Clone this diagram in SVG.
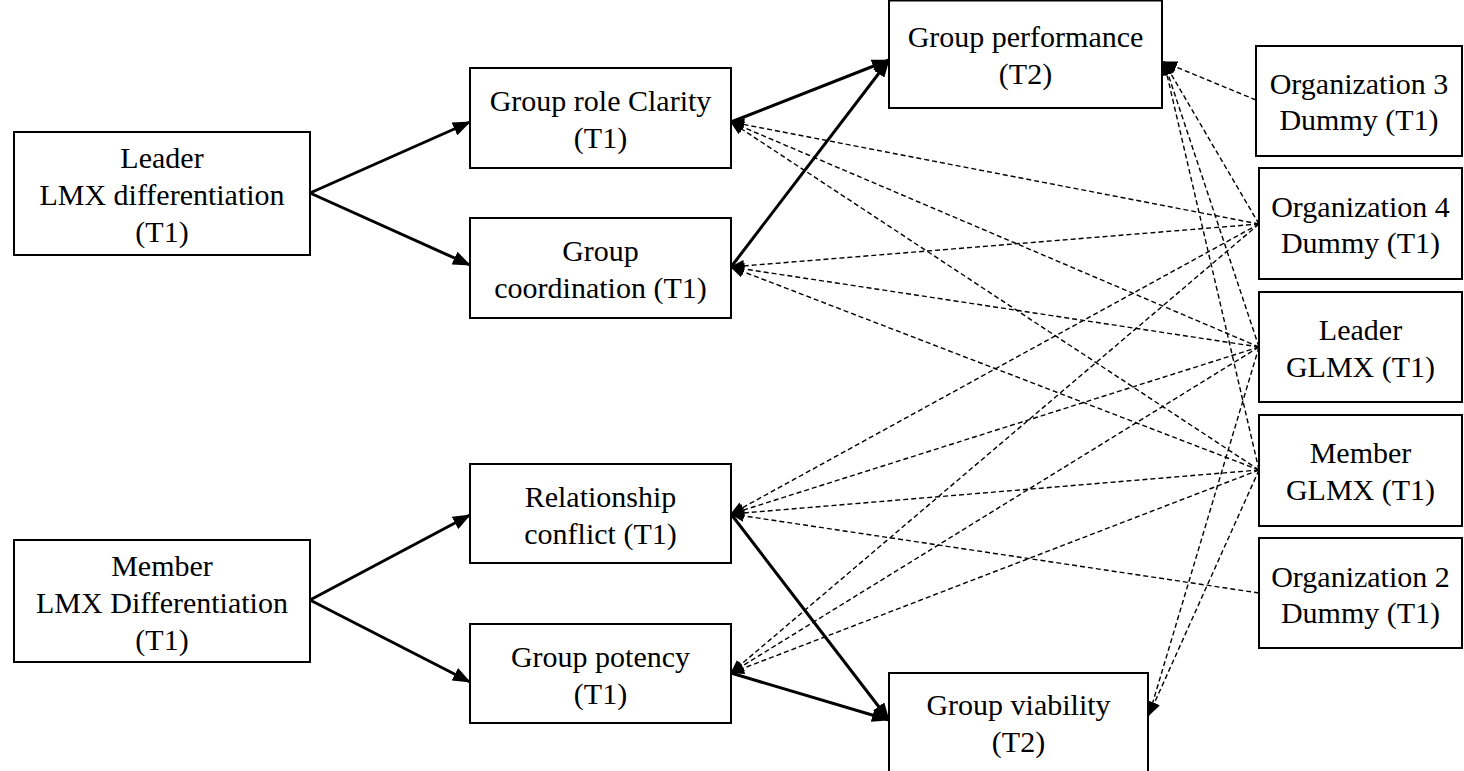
<svg xmlns="http://www.w3.org/2000/svg" width="1464" height="771" viewBox="0 0 1464 771">
  <style>
    .box { fill: #fff; stroke: #000; stroke-width: 2; }
    .lbl { font-family: 'Liberation Serif', serif; font-size: 30px; fill: #000; text-anchor: middle; }
    .main { stroke: #000; stroke-width: 3; fill: none; marker-end: url(#headMain); }
    .ctrl { stroke: #000; stroke-width: 1.4; stroke-dasharray: 5 3; fill: none; marker-end: url(#headCtrl); }
  </style>
  <defs>
    <marker id="headMain" markerUnits="userSpaceOnUse" markerWidth="18" markerHeight="14" refX="17" refY="7" orient="auto">
      <path d="M0,0 L18,7 L0,14 z" fill="#000"/>
    </marker>
    <marker id="headCtrl" markerUnits="userSpaceOnUse" markerWidth="14" markerHeight="12" refX="13" refY="6" orient="auto">
      <path d="M0,0 L14,6 L0,12 z" fill="#000"/>
    </marker>
  </defs>
  <rect width="1464" height="771" fill="#fff"/>

  <!-- connectors, drawn beneath the boxes -->
  <g id="connectors">
    <!-- hypothesised paths -->
    <line class="main" x1="310" y1="193" x2="470" y2="122"/>
    <line class="main" x1="310" y1="193" x2="470" y2="265"/>
    <line class="main" x1="310" y1="600" x2="470" y2="515"/>
    <line class="main" x1="310" y1="600" x2="470" y2="682"/>
    <line class="main" x1="731" y1="122" x2="889" y2="60"/>
    <line class="main" x1="731" y1="267" x2="889" y2="60"/>
    <line class="main" x1="731" y1="514" x2="889" y2="720"/>
    <line class="main" x1="731" y1="673" x2="889" y2="720"/>
    <!-- control variables -->
    <line class="ctrl" x1="1256" y1="100" x2="1164" y2="62"/>
    <line class="ctrl" x1="1259" y1="224" x2="1164" y2="62"/>
    <line class="ctrl" x1="1259" y1="224" x2="731" y2="122"/>
    <line class="ctrl" x1="1259" y1="224" x2="731" y2="267"/>
    <line class="ctrl" x1="1259" y1="224" x2="731" y2="514"/>
    <line class="ctrl" x1="1259" y1="224" x2="731" y2="673"/>
    <line class="ctrl" x1="1259" y1="347" x2="1164" y2="62"/>
    <line class="ctrl" x1="1259" y1="347" x2="731" y2="122"/>
    <line class="ctrl" x1="1259" y1="347" x2="731" y2="267"/>
    <line class="ctrl" x1="1259" y1="347" x2="731" y2="514"/>
    <line class="ctrl" x1="1259" y1="347" x2="731" y2="673"/>
    <line class="ctrl" x1="1259" y1="347" x2="1149" y2="715"/>
    <line class="ctrl" x1="1259" y1="470" x2="1164" y2="62"/>
    <line class="ctrl" x1="1259" y1="470" x2="731" y2="122"/>
    <line class="ctrl" x1="1259" y1="470" x2="731" y2="267"/>
    <line class="ctrl" x1="1259" y1="470" x2="731" y2="514"/>
    <line class="ctrl" x1="1259" y1="470" x2="731" y2="673"/>
    <line class="ctrl" x1="1259" y1="470" x2="1149" y2="715"/>
    <line class="ctrl" x1="1259" y1="593" x2="731" y2="514"/>
  </g>

  <!-- nodes -->
  <g id="leader-lmx" style="font-family: 'Liberation Serif', serif">
    <rect class="box" x="14" y="132" width="296" height="123"/>
    <text class="lbl" x="162" y="168">Leader</text>
    <text class="lbl" x="162" y="205">LMX differentiation</text>
    <text class="lbl" x="162" y="242">(T1)</text>
  </g>
  <g id="member-lmx" style="font-family: 'Liberation Serif', serif">
    <rect class="box" x="14" y="540" width="296" height="122"/>
    <text class="lbl" x="162" y="576">Member</text>
    <text class="lbl" x="162" y="613">LMX Differentiation</text>
    <text class="lbl" x="162" y="650">(T1)</text>
  </g>
  <g id="role-clarity" style="font-family: 'Liberation Serif', serif">
    <rect class="box" x="470" y="68" width="261" height="100"/>
    <text class="lbl" x="600.5" y="111">Group role Clarity</text>
    <text class="lbl" x="600.5" y="148">(T1)</text>
  </g>
  <g id="coordination" style="font-family: 'Liberation Serif', serif">
    <rect class="box" x="470" y="218" width="261" height="100"/>
    <text class="lbl" x="600.5" y="261">Group</text>
    <text class="lbl" x="600.5" y="298">coordination (T1)</text>
  </g>
  <g id="relationship-conflict" style="font-family: 'Liberation Serif', serif">
    <rect class="box" x="470" y="464" width="261" height="99"/>
    <text class="lbl" x="600.5" y="507">Relationship</text>
    <text class="lbl" x="600.5" y="544">conflict (T1)</text>
  </g>
  <g id="potency" style="font-family: 'Liberation Serif', serif">
    <rect class="box" x="470" y="624" width="261" height="99"/>
    <text class="lbl" x="600.5" y="667">Group potency</text>
    <text class="lbl" x="600.5" y="704">(T1)</text>
  </g>
  <g id="performance" style="font-family: 'Liberation Serif', serif">
    <rect class="box" x="889" y="0.5" width="273" height="107.5"/>
    <text class="lbl" x="1025.5" y="47">Group performance</text>
    <text class="lbl" x="1025.5" y="84">(T2)</text>
  </g>
  <g id="viability" style="font-family: 'Liberation Serif', serif">
    <rect class="box" x="889" y="673" width="259" height="102"/>
    <text class="lbl" x="1018.5" y="715">Group viability</text>
    <text class="lbl" x="1018.5" y="752">(T2)</text>
  </g>
  <g id="org3" style="font-family: 'Liberation Serif', serif">
    <rect class="box" x="1256" y="46" width="206" height="110"/>
    <text class="lbl" x="1359" y="94">Organization 3</text>
    <text class="lbl" x="1359" y="130">Dummy (T1)</text>
  </g>
  <g id="org4" style="font-family: 'Liberation Serif', serif">
    <rect class="box" x="1259" y="168" width="203" height="111"/>
    <text class="lbl" x="1360.5" y="217">Organization 4</text>
    <text class="lbl" x="1360.5" y="253">Dummy (T1)</text>
  </g>
  <g id="leader-glmx" style="font-family: 'Liberation Serif', serif">
    <rect class="box" x="1259" y="292" width="203" height="110"/>
    <text class="lbl" x="1360.5" y="340">Leader</text>
    <text class="lbl" x="1360.5" y="377">GLMX (T1)</text>
  </g>
  <g id="member-glmx" style="font-family: 'Liberation Serif', serif">
    <rect class="box" x="1259" y="415" width="203" height="111"/>
    <text class="lbl" x="1360.5" y="463">Member</text>
    <text class="lbl" x="1360.5" y="500">GLMX (T1)</text>
  </g>
  <g id="org2" style="font-family: 'Liberation Serif', serif">
    <rect class="box" x="1259" y="538" width="203" height="110"/>
    <text class="lbl" x="1360.5" y="587">Organization 2</text>
    <text class="lbl" x="1360.5" y="623">Dummy (T1)</text>
  </g>
</svg>
